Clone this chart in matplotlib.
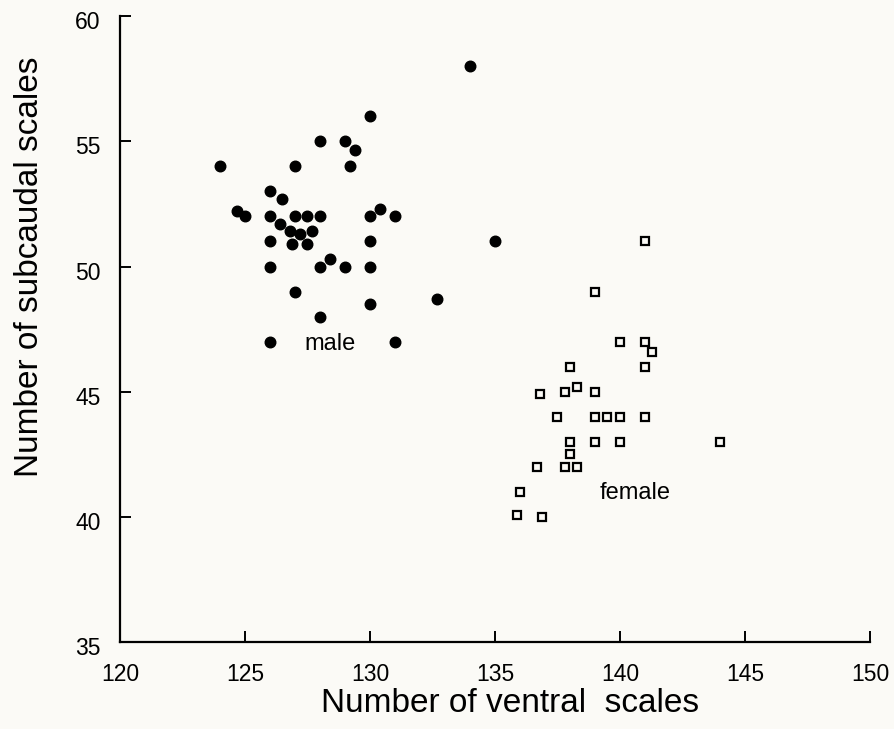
import numpy as np
import matplotlib.pyplot as plt
from matplotlib.transforms import ScaledTranslation

plt.rcParams['font.family'] = ['Liberation Sans', 'DejaVu Sans']

# male: ventral vs subcaudal scale counts
male_ventral = [130, 128, 129, 129.4, 124, 127, 129.2, 126, 126.5, 124.7,
                125, 126, 127, 127.5, 128, 130, 130.4, 131, 126.4, 126.8,
                127.2, 127.7, 126, 126.9, 127.5, 130, 126, 128, 128.4, 129,
                130, 127, 130, 132.7, 128, 126, 131, 134, 135]
male_subcaudal = [56, 55, 55, 54.65, 54, 54, 54, 53, 52.7, 52.2,
                  52, 52, 52, 52, 52, 52, 52.3, 52, 51.7, 51.4,
                  51.3, 51.4, 51, 50.9, 50.9, 51, 50, 50, 50.3, 50,
                  50, 49, 48.5, 48.7, 48, 47, 47, 58, 51]

# female
female_ventral = [141, 139, 140, 141, 141.3, 138, 141, 136.8, 137.8, 138.3,
                  139, 137.5, 139, 139.5, 140, 141, 138, 139, 140, 144,
                  138, 136.7, 137.8, 138.3, 136, 135.9, 136.9]
female_subcaudal = [51, 49, 47, 47, 46.6, 46, 46, 44.9, 45, 45.2,
                    45, 44, 44, 44, 44, 44, 43, 43, 43, 43,
                    42.5, 42, 42, 42, 41, 40.1, 40]

xticks = [120, 125, 130, 135, 140, 145, 150]
yticks = [35, 40, 45, 50, 55, 60]

bg = '#fbfaf6'
fig = plt.figure(figsize=(8.95, 7.29), dpi=100, facecolor=bg)
ax = fig.add_axes([0.134, 0.119, 0.838, 0.859], facecolor=bg)

ax.plot(male_ventral, male_subcaudal, 'o', color='black', markersize=7.6,
        linestyle='none', clip_on=False)
ax.plot(female_ventral, female_subcaudal, 's', markerfacecolor='none',
        markeredgecolor='black', markersize=6.3, markeredgewidth=1.6,
        linestyle='none', clip_on=False)

ax.text(128.4, 46.9, 'male', fontsize=17, ha='center', va='center')
ax.text(140.6, 40.95, 'female', fontsize=17, ha='center', va='center')

ax.set_xlim(120, 150)
ax.set_ylim(35, 60)
ax.set_xticks(xticks)
ax.set_yticks(yticks)
for s in ['top', 'right']:
    ax.spines[s].set_visible(False)
for s in ['left', 'bottom']:
    ax.spines[s].set_linewidth(1.6)
ax.tick_params(direction='in', length=8, width=1.4, labelsize=16.5)
ax.tick_params(axis='x', pad=15)
ax.tick_params(axis='y', pad=14)

# y tick labels sit a little below their ticks in the original
off = ScaledTranslation(0, -4 / 100, fig.dpi_scale_trans)
for lab in ax.get_yticklabels():
    lab.set_transform(lab.get_transform() + off)

ax.set_xlabel('Number of ventral  scales', fontsize=24, va='center')
ax.set_ylabel('Number of subcaudal scales', fontsize=24, va='center')
ax.xaxis.set_label_coords(0.52, -0.098)
ax.yaxis.set_label_coords(-0.12, 0.599)

fig.savefig('out.png', dpi=100, facecolor=bg)
